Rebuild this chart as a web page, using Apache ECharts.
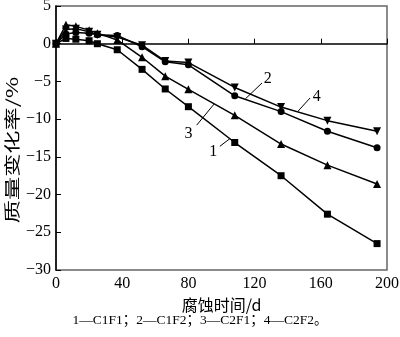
<!DOCTYPE html>
<html><head><meta charset="utf-8">
<script src="https://cdn.jsdelivr.net/npm/echarts@6/dist/echarts.min.js"></script>
<style>html,body{margin:0;padding:0;background:#fff}#c{width:400px;height:337px}</style>
</head><body><div id="c"></div>
<script>
const days = [0, 6, 12, 20, 25, 37, 52, 66, 80, 108, 136, 164, 194];
const c1f1 = [0, 0.7, 0.6, 0.4, 0.0, -0.8, -3.4, -6.0, -8.35, -13.1, -17.5, -22.6, -26.5];
const c1f2 = [0, 1.3, 1.5, 1.4, 1.2, 1.1, -0.4, -2.4, -2.8, -6.9, -9.0, -11.6, -13.8];
const c2f1 = [0, 2.5, 2.3, 1.8, 1.4, 0.5, -1.8, -4.3, -6.05, -9.5, -13.3, -16.1, -18.6];
const c2f2 = [0, 1.9, 2.0, 1.6, 1.2, 0.9, -0.2, -2.3, -2.5, -5.8, -8.4, -10.2, -11.6];
const xTicks = [0, 40, 80, 120, 160, 200];
const yTicks = [-30, -25, -20, -15, -10, -5, 0, 5];
const xName = '腐蚀时间/d';
const yName = '质量变化率/%';
const caption = '1—C1F1；2—C1F2；3—C2F1；4—C2F2。';
// annotation: label text, label anchor (data), line target (data)
const notes = [
  {text: '1', at: [95, -14.3], from: [99, -13.6], to: [105, -12.6]},
  {text: '2', at: [128, -4.7], from: [124.5, -5.2], to: [114.5, -7.3]},
  {text: '3', at: [80, -11.9], from: [85, -10.8], to: [95.5, -8.0]},
  {text: '4', at: [157.5, -7.1], from: [153.5, -7.2], to: [146, -9.0]}
];
const serif = '"Liberation Serif","Times New Roman","Noto Sans CJK SC",serif';
const cjk = '"Noto Sans CJK SC","Liberation Serif",serif';
function mk(vals){ return days.map((d,i)=>[d, vals[i]]); }
function ser(name, vals, sym, rot){
  return {name, type:'line', data: mk(vals), symbol: sym, symbolSize: sym==='rect'?7:(sym==='circle'?7:8),
    symbolRotate: rot||0, showSymbol:true,
    lineStyle:{color:'#000', width:1.5}, itemStyle:{color:'#000'}, z:3, animation:false};
}
const chart = echarts.init(document.getElementById('c'), null, {renderer:'canvas'});
const fmt = v => String(v).replace('-', '−');
chart.setOption({
  animation:false,
  grid:{left:56, right:13, top:6, bottom:67, containLabel:false, outerBoundsMode:'none',
    show:true, borderColor:'#666', borderWidth:1.5, backgroundColor:'transparent'},
  xAxis:{type:'value', min:xTicks[0], max:xTicks[xTicks.length-1], interval:40,
    name:xName, nameLocation:'middle', nameGap:27,
    nameTextStyle:{fontFamily:cjk, fontSize:16, color:'#000'},
    axisLine:{show:true, lineStyle:{color:'#000', width:1.5}},
    axisTick:{show:true, inside:true, length:5, lineStyle:{color:'#000'}},
    axisLabel:{fontFamily:serif, fontSize:16, color:'#000', margin:6},
    splitLine:{show:false}},
  yAxis:{type:'value', min:yTicks[0], max:yTicks[yTicks.length-1], interval:5,
    axisLine:{show:true, lineStyle:{color:'#000', width:1.5}},
    axisTick:{show:true, inside:true, length:5, lineStyle:{color:'#000'}},
    axisLabel:{fontFamily:serif, fontSize:16, color:'#000', margin:5, formatter: fmt},
    splitLine:{show:false}},
  series:[
    ser('C1F1', c1f1, 'rect'),
    ser('C1F2', c1f2, 'circle'),
    ser('C2F1', c2f1, 'triangle'),
    ser('C2F2', c2f2, 'triangle', 180)
  ]
});
const g = [];
notes.forEach(n=>{
  const p = chart.convertToPixel({gridIndex:0}, n.at);
  const a = chart.convertToPixel({gridIndex:0}, n.from);
  const b = chart.convertToPixel({gridIndex:0}, n.to);
  g.push({type:'text', x:p[0], y:p[1], style:{text:n.text, font:'16px '+serif, fill:'#000', align:'center', verticalAlign:'middle'}, z:10});
  g.push({type:'line', shape:{x1:a[0], y1:a[1], x2:b[0], y2:b[1]}, style:{stroke:'#000', lineWidth:1}, z:10});
});
g.push({type:'text', x:12, y:150, rotation:Math.PI/2, scaleX:1.45, scaleY:1.0,
  style:{text:yName, font:'16px '+cjk, fill:'#000', align:'center', verticalAlign:'middle'}, z:10});
g.push({type:'text', left:'center', top:314, style:{text:caption, font:'13.5px '+serif, fill:'#000'}, z:10});
chart.setOption({graphic:g});
</script></body></html>
